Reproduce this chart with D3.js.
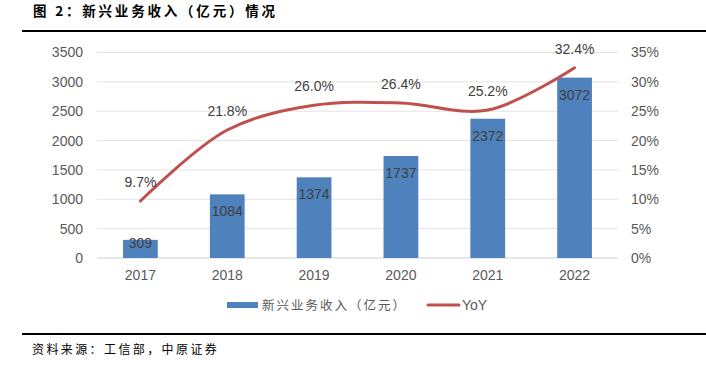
<!DOCTYPE html>
<html><head><meta charset="utf-8">
<script src="https://cdn.jsdelivr.net/npm/d3@7"></script>
<style>body{margin:0;background:#fff}svg{display:block}</style>
</head><body>
<svg id="c" width="706" height="375"></svg>
<script>
const categories = ["2017","2018","2019","2020","2021","2022"];
const revenue = [309,1084,1374,1737,2372,3072];
const yoy = [9.7,21.8,26.0,26.4,25.2,32.4];
const leftTicks = [0,500,1000,1500,2000,2500,3000,3500];
const rightTicks = [0,5,10,15,20,25,30,35];
const title = "图 2：新兴业务收入（亿元）情况";
const source = "资料来源：工信部，中原证券";
const legendBar = "新兴业务收入（亿元）";
const legendLine = "YoY";

const svg = d3.select("#c");
const font = "Liberation Sans, Arial, sans-serif";
const cjk = "Noto Sans CJK SC, sans-serif";
const L = 97, R = 618, T = 52.5, B = 258;

const x = d3.scaleBand().domain(categories).range([L,R]).paddingInner(0.6).paddingOuter(0.3);
const y = d3.scaleLinear().domain([0,3500]).range([B,T]);
const y2 = d3.scaleLinear().domain([0,35]).range([B,T]);

// title and rules
svg.append("text").attr("x",33).attr("y",15.5).attr("font-family",cjk).attr("font-weight","bold")
  .attr("font-size",13.5).attr("letter-spacing",2.8).attr("fill","#000").text(title);
svg.append("rect").attr("x",22).attr("y",30).attr("width",684).attr("height",2).attr("fill","#000");
svg.append("rect").attr("x",22).attr("y",333).attr("width",684).attr("height",2).attr("fill","#000");
svg.append("text").attr("x",32).attr("y",354).attr("font-family",cjk)
  .attr("font-size",12).attr("letter-spacing",2.4).attr("fill","#000").text(source);

// gridlines
svg.append("g").selectAll("line").data(leftTicks).join("line")
  .attr("x1",L).attr("x2",R).attr("y1",d=>y(d)).attr("y2",d=>y(d))
  .attr("stroke",d=>d===0?"#d0d0d0":"#e3e3e3").attr("stroke-width",1);

// left axis
const la = svg.append("g").attr("transform",`translate(${L},0)`)
  .call(d3.axisLeft(y).tickValues(leftTicks).tickSize(0).tickPadding(14).tickFormat(d3.format("d")));
la.select(".domain").remove();
la.selectAll("text").attr("font-family",font).attr("font-size",14).attr("fill","#595959");

// right axis
const ra = svg.append("g").attr("transform",`translate(${R},0)`)
  .call(d3.axisRight(y2).tickValues(rightTicks).tickSize(0).tickPadding(13).tickFormat(d=>d+"%"));
ra.select(".domain").remove();
ra.selectAll("text").attr("font-family",font).attr("font-size",14).attr("fill","#595959");

// x axis
const xa = svg.append("g").attr("transform",`translate(0,${B})`)
  .call(d3.axisBottom(x).tickSize(0).tickPadding(12));
xa.select(".domain").remove();
xa.selectAll("text").attr("font-family",font).attr("font-size",14).attr("fill","#595959");

// bars
svg.append("g").selectAll("rect").data(revenue).join("rect")
  .attr("x",(d,i)=>x(categories[i])).attr("width",x.bandwidth())
  .attr("y",d=>y(d)).attr("height",d=>B-y(d)).attr("fill","#4F81BD");
svg.append("g").selectAll("text").data(revenue).join("text")
  .attr("x",(d,i)=>x(categories[i])+x.bandwidth()/2).attr("y",d=>Math.min(y(d)+22,B-10))
  .attr("text-anchor","middle").attr("font-family",font).attr("font-size",14)
  .attr("fill","#404040").text(d=>d);

// line
const cx = (i)=>x(categories[i])+x.bandwidth()/2;
const line = d3.line().x((d,i)=>cx(i)).y(d=>y2(d)).curve(d3.curveCatmullRom.alpha(0.5));
svg.append("path").datum(yoy).attr("d",line).attr("fill","none")
  .attr("stroke","#C0504D").attr("stroke-width",3).attr("stroke-linecap","round");
svg.append("g").selectAll("text").data(yoy).join("text")
  .attr("x",(d,i)=>cx(i)).attr("y",d=>y2(d)-14)
  .attr("text-anchor","middle").attr("font-family",font).attr("font-size",14)
  .attr("fill","#404040").text(d=>d.toFixed(1)+"%");

// legend
svg.append("rect").attr("x",227).attr("y",302).attr("width",31).attr("height",6).attr("fill","#4F81BD");
svg.append("text").attr("x",262).attr("y",310).attr("font-family",cjk).attr("font-size",12.5)
  .attr("fill","#595959").attr("letter-spacing",2).text(legendBar);
svg.append("line").attr("x1",428).attr("x2",459).attr("y1",305).attr("y2",305)
  .attr("stroke","#C0504D").attr("stroke-width",3).attr("stroke-linecap","round");
svg.append("text").attr("x",462).attr("y",310).attr("font-family",font).attr("font-size",14)
  .attr("fill","#595959").text(legendLine);
</script>
</body></html>
